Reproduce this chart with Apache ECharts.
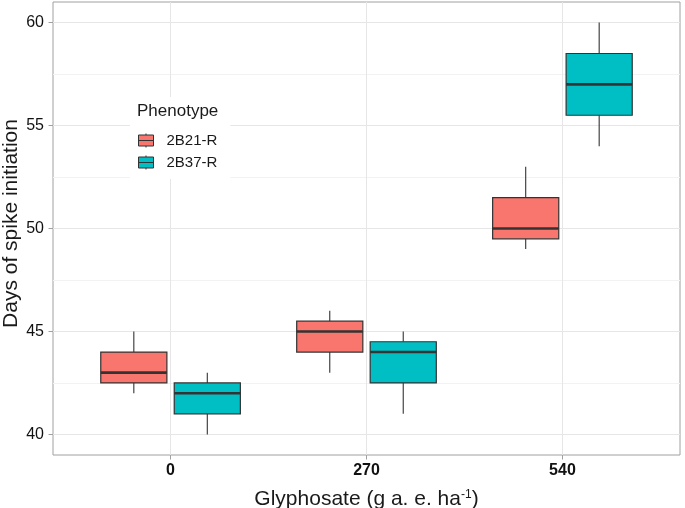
<!DOCTYPE html>
<html>
<head>
<meta charset="utf-8">
<script src="https://cdn.jsdelivr.net/npm/echarts@6/dist/echarts.min.js"></script>
<style>
  html, body { margin: 0; padding: 0; background: #fff; }
  #chart { width: 685px; height: 508px; }
</style>
</head>
<body>
<div id="chart"></div>
<script>
// glyphosate doses (x categories)
const doses = ['0', '270', '540'];
const doseIdx = [1, 2, 3];

// 2B21-R boxplot stats
const r21Min = [42, 43, 49];
const r21Q1 = [42.5, 44, 49.5];
const r21Med = [43, 45, 50];
const r21Q3 = [44, 45.5, 51.5];
const r21Max = [45, 46, 53];

// 2B37-R boxplot stats
const r37Min = [40, 41, 54];
const r37Q1 = [41, 42.5, 55.5];
const r37Med = [42, 44, 57];
const r37Q3 = [42.5, 44.5, 58.5];
const r37Max = [43, 45, 60];

const yTicks = [40, 45, 50, 55, 60];
const yMinor = [42.5, 47.5, 52.5, 57.5];

const font = '"Liberation Sans", Arial, sans-serif';
const boxW = 0.3375;

function rows(mn, q1, md, q3, mx) {
  return doseIdx.map((x, i) => [x, mn[i], q1[i], md[i], q3[i], mx[i]]);
}

function boxRenderer(offset, color) {
  return function (params, api) {
    const x = api.value(0);
    const unit = api.size([1, 0])[0];
    const cx = api.coord([x, 50])[0] + offset * unit;
    const hw = boxW / 2 * unit;
    const y = (k) => api.coord([x, api.value(k)])[1];
    const yMin = y(1), yQ1 = y(2), yMed = y(3), yQ3 = y(4), yMax = y(5);
    const line = { stroke: '#333', lineWidth: 1.1 };
    return {
      type: 'group',
      children: [
        { type: 'line', shape: { x1: cx, y1: yMax, x2: cx, y2: yQ3 }, style: line },
        { type: 'line', shape: { x1: cx, y1: yQ1, x2: cx, y2: yMin }, style: line },
        { type: 'rect', shape: { x: cx - hw, y: yQ3, width: 2 * hw, height: yQ1 - yQ3 },
          style: { fill: color, stroke: '#333', lineWidth: 1.2 } },
        { type: 'line', shape: { x1: cx - hw, y1: yMed, x2: cx + hw, y2: yMed },
          style: { stroke: '#333', lineWidth: 2.6 } }
      ]
    };
  };
}

const chart = echarts.init(document.getElementById('chart'));
chart.setOption({
  animation: false,
  backgroundColor: '#fff',
  grid: {
    left: 53, right: 5, top: 2, bottom: 53, outerBoundsMode: 'none', containLabel: false,
    show: true, borderColor: '#a0a0a0', borderWidth: 1, backgroundColor: '#fff'
  },
  title: {
    text: 'Phenotype', left: 137, top: 103, padding: 0, z: 20,
    textStyle: { fontFamily: font, fontSize: 17, fontWeight: 'normal', color: '#1a1a1a' }
  },
  legend: {
    orient: 'vertical', left: 130, top: 97, z: 10,
    padding: [36, 13, 9, 8],
    backgroundColor: '#fff',
    itemWidth: 15, itemHeight: 14, itemGap: 7,
    icon: 'path://M7.5,0L7.5,1.5M0,1.5L15,1.5L15,12.5L0,12.5ZM0,7L15,7M7.5,12.5L7.5,14',
    itemStyle: { borderColor: '#333', borderWidth: 1 },
    textStyle: { fontFamily: font, fontSize: 15, color: '#1a1a1a', padding: [0, 0, 0, 8] },
    data: ['2B21-R', '2B37-R']
  },
  xAxis: {
    type: 'value', min: 0.4, max: 3.6,
    name: '{a|Glyphosate (g a. e. ha}{s|-1}{a|)}',
    nameLocation: 'middle', nameGap: 34, nameMoveOverlap: false,
    nameTextStyle: {
      rich: {
        a: { fontFamily: font, fontSize: 21, color: '#1a1a1a' },
        s: { fontFamily: font, fontSize: 12, color: '#1a1a1a', verticalAlign: 'top', padding: [0, 0, 9, 0] }
      }
    },
    axisLine: { show: false },
    axisTick: { show: true, length: 4.5, customValues: doseIdx, lineStyle: { color: '#a0a0a0' } },
    axisLabel: {
      customValues: doseIdx, margin: 8,
      fontFamily: font, fontSize: 16, fontWeight: 'bold', color: '#111',
      formatter: (v) => doses[Math.round(v) - 1]
    },
    splitLine: { show: true, lineStyle: { color: '#e6e6e6', width: 1 } }
  },
  yAxis: [{
    type: 'value', min: 39, max: 61,
    name: 'Days of spike initiation',
    nameLocation: 'middle', nameGap: 31, nameMoveOverlap: false,
    nameTextStyle: { fontFamily: font, fontSize: 21, color: '#1a1a1a', padding: [0, 0, 0, 10] },
    axisLine: { show: false },
    axisTick: { show: true, length: 4.5, customValues: yTicks, lineStyle: { color: '#a0a0a0' } },
    axisLabel: { customValues: yTicks, margin: 9, fontFamily: font, fontSize: 16, color: '#111' },
    splitLine: { show: true, lineStyle: { color: '#e6e6e6', width: 1 } }
  }, {
    type: 'value', min: 39, max: 61, position: 'left',
    axisLine: { show: false },
    axisTick: { show: false, customValues: yMinor },
    axisLabel: { show: false, customValues: yMinor },
    splitLine: { show: true, lineStyle: { color: '#f2f2f2', width: 1 } }
  }],
  series: [{
    name: '2B21-R', type: 'custom',
    itemStyle: { color: '#F8766D' },
    renderItem: boxRenderer(-0.1875, '#F8766D'),
    encode: { x: 0, y: [1, 2, 3, 4, 5] },
    data: rows(r21Min, r21Q1, r21Med, r21Q3, r21Max)
  }, {
    name: '2B37-R', type: 'custom',
    itemStyle: { color: '#00BFC4' },
    renderItem: boxRenderer(0.1875, '#00BFC4'),
    encode: { x: 0, y: [1, 2, 3, 4, 5] },
    data: rows(r37Min, r37Q1, r37Med, r37Q3, r37Max)
  }]
});
</script>
</body>
</html>
